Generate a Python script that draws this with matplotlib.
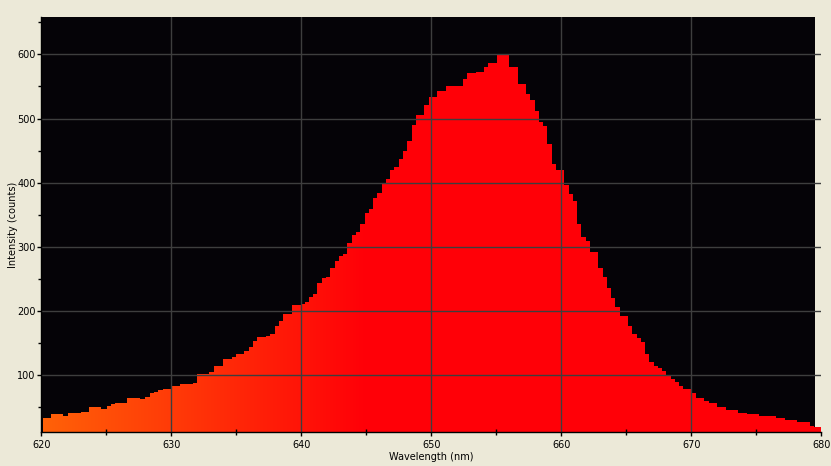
import numpy as np
import matplotlib
matplotlib.use("Agg")
import matplotlib.pyplot as plt
from matplotlib.patches import Rectangle
from matplotlib.ticker import MultipleLocator

# ---- data (step start wavelength in nm, intensity in counts) ----
step_start_nm = [
    620.1, 620.77, 621.67, 622.05, 623.03, 623.67, 624.6, 625.05, 625.36, 625.67,
    626.6, 627.6, 627.97, 628.36, 628.67, 628.97, 629.36, 630.05, 630.67, 631.67,
    631.98, 632.92, 633.28, 633.98, 634.67, 634.98, 635.6, 635.98, 636.28, 636.59,
    637.28, 637.59, 637.98, 638.28, 638.59, 639.28, 640.0, 640.28, 640.59, 640.9,
    641.2, 641.59, 641.9, 642.2, 642.59, 642.9, 643.2, 643.52, 643.9, 644.2,
    644.52, 644.9, 645.2, 645.52, 645.82, 646.21, 646.52, 646.82, 647.13, 647.52,
    647.82, 648.13, 648.52, 648.82, 649.44, 649.82, 650.44, 651.13, 652.44, 652.75,
    653.44, 654.05, 654.36, 655.05, 655.98, 656.67, 657.28, 657.59, 657.98, 658.28,
    658.59, 658.9, 659.28, 659.59, 660.2, 660.59, 660.9, 661.2, 661.52, 661.9,
    662.21, 662.82, 663.21, 663.52, 663.82, 664.13, 664.52, 665.13, 665.44, 665.82,
    666.13, 666.44, 666.75, 667.13, 667.44, 667.75, 668.05, 668.44, 668.75, 669.05,
    669.36, 670.05, 670.36, 670.98, 671.36, 671.98, 672.67, 673.59, 674.28, 675.2,
    676.52, 677.2, 678.13, 679.13, 679.44,
]
intensity = [
    33.5, 39.7, 36.6, 41.3, 42.9, 50.6, 47.5, 52.2, 55.3, 56.8,
    64.6, 63.1, 66.2, 72.4, 74.0, 77.0, 78.6, 83.3, 86.4, 88.0,
    102.0, 105.1, 114.5, 125.4, 128.5, 133.2, 137.9, 144.1, 153.4, 159.7,
    161.2, 164.3, 176.8, 184.6, 195.5, 209.5, 211.1, 214.2, 222.0, 226.7,
    243.9, 251.6, 253.2, 267.3, 278.2, 286.0, 289.1, 306.2, 318.7, 323.4,
    335.8, 353.0, 359.0, 376.2, 384.0, 398.0, 405.8, 419.8, 424.4, 437.0,
    449.4, 465.0, 490.0, 505.5, 521.0, 533.5, 542.8, 550.6, 561.5, 570.9,
    572.4, 580.2, 586.4, 598.9, 580.2, 553.7, 538.2, 528.8, 511.7, 494.5,
    488.3, 460.3, 429.1, 419.8, 396.4, 382.4, 371.5, 335.8, 315.5, 309.3,
    292.2, 267.3, 253.2, 236.1, 220.5, 206.5, 192.5, 176.8, 164.3, 158.1,
    151.9, 133.2, 120.7, 114.5, 111.4, 106.7, 98.9, 94.3, 89.6, 83.3,
    78.6, 72.4, 64.6, 59.9, 56.8, 50.6, 45.9, 41.3, 39.7, 36.6,
    33.5, 30.3, 27.2, 21.0, 19.0,
]
end_nm = 680.0

x_ticks = [620, 630, 640, 650, 660, 670, 680]
y_ticks = [100, 200, 300, 400, 500, 600]
x_label = "Wavelength (nm)"
y_label = "Intensity (counts)"

# ---- style ----
BEIGE = "#ECE9D8"
PLOT_BG = "#050307"
GRID = "#3E3E3E"

plt.rcParams["font.family"] = ["DejaVu Sans"]
fig = plt.figure(figsize=(8.31, 4.66), dpi=100, facecolor=BEIGE)
ax = fig.add_axes([41.3 / 831, 34 / 466, 780 / 831, 415 / 466])
ax.set_facecolor(BEIGE)

# black plot region (ends slightly before 680 as in the reference)
ax.add_patch(Rectangle((0, 0), (679.5 - 620) / 60, 1, transform=ax.transAxes,
                       facecolor=PLOT_BG, edgecolor="none", zorder=0))

edges = np.array(step_start_nm + [end_nm])
vals = np.array(intensity)
step = ax.stairs(vals, edges, baseline=0, fill=True, color="red",
                 linewidth=0, zorder=1)

# spectral colour gradient (wavelength -> RGB)
wl = np.linspace(620, 680, 800)
g = np.clip((645 - wl) / 65.0, 0, 1)
rgb = np.stack([np.ones_like(wl), g, np.full_like(wl, 0.03)], axis=-1)[None, :, :]
im = ax.imshow(rgb, extent=[620, 680, 0, 700], aspect="auto",
               interpolation="bilinear", zorder=2, origin="lower")
im.set_clip_path(step)
ax.set_xlim(620, 680)
ax.set_ylim(11.7, 658.1)

# grid over bars
ax.set_xticks(x_ticks)
ax.set_yticks(y_ticks)
ax.xaxis.set_minor_locator(MultipleLocator(5))
ax.yaxis.set_minor_locator(MultipleLocator(50))
ax.set_axisbelow(False)
for xv in x_ticks[1:-1]:
    ax.axvline(xv, color=GRID, linewidth=1.0, zorder=3)
for yv in y_ticks:
    ax.axhline(yv, color=GRID, linewidth=1.0, zorder=3)

for s in ["top", "right"]:
    ax.spines[s].set_visible(False)
for s in ["left", "bottom"]:
    ax.spines[s].set_color("black")
    ax.spines[s].set_linewidth(1.0)
    ax.spines[s].set_zorder(4)

ax.tick_params(axis="both", which="major", direction="out", length=3, width=1,
               color="black", labelsize=7, labelcolor="black")
ax.tick_params(axis="x", which="major", pad=3)
ax.tick_params(axis="y", which="major", pad=1)
ax.tick_params(axis="x", which="minor", direction="inout", length=4, width=1, color="black")
ax.tick_params(axis="y", which="minor", direction="out", length=2, width=1, color="black")

ax.set_xlabel(x_label, fontsize=7, labelpad=1)
ax.set_ylabel(y_label, fontsize=7, labelpad=0)
ax.yaxis.set_label_coords(-23.5 / 780, 0.5)

fig.savefig("out.png", dpi=100, facecolor=BEIGE)
